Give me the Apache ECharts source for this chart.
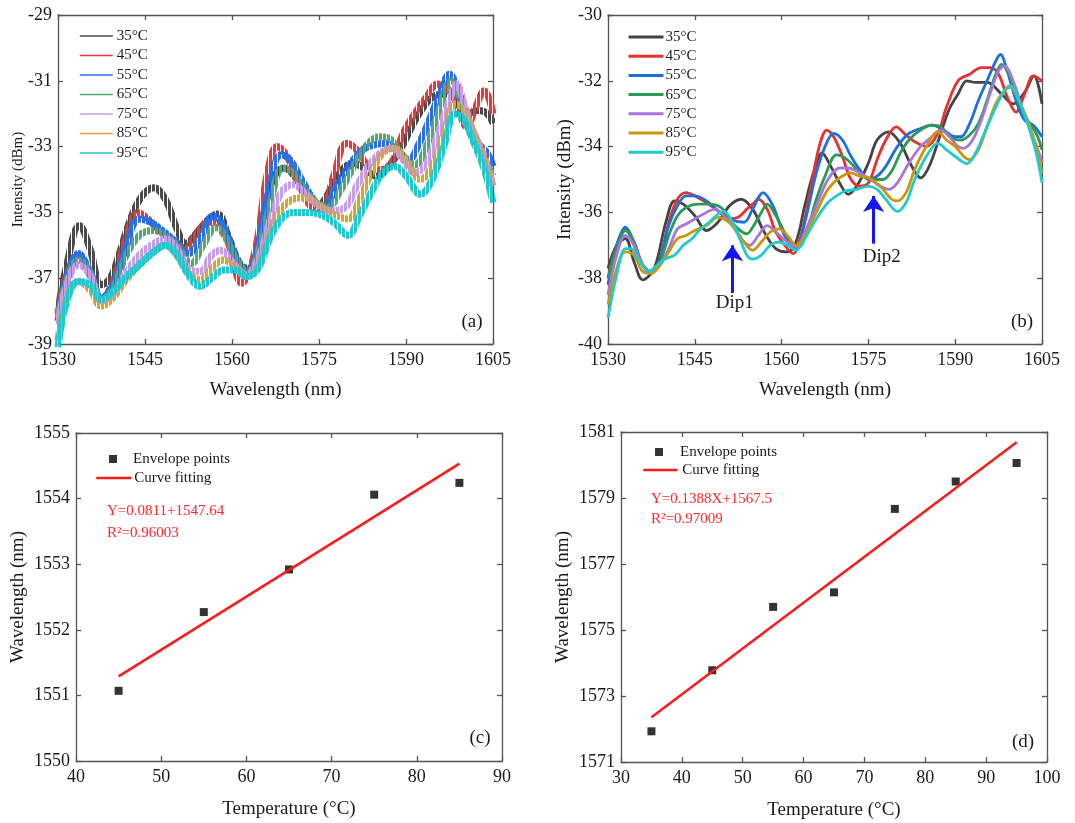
<!DOCTYPE html>
<html>
<head>
<meta charset="utf-8">
<script src="https://cdn.jsdelivr.net/npm/echarts@6/dist/echarts.min.js"></script>
<style>
html,body{margin:0;padding:0;background:#fff}
#chart{width:1075px;height:823px}
</style>
</head>
<body>
<div id="chart"></div>
<script>
// ---------- data ----------
const tempNames = ['35°C', '45°C', '55°C', '65°C', '75°C', '85°C', '95°C'];

// (a) fringe spectra, band centre [wavelength nm, intensity dBm]
const specA35 = [[1530,-38.0],[1531.5,-36.6],[1533.7,-35.4],[1535.5,-36.1],[1537.5,-37.2],[1539,-37.0],[1540.5,-36.3],[1542.5,-35.2],[1544.5,-34.5],[1546.5,-34.25],[1548.5,-34.6],[1550.5,-35.5],[1552,-35.95],[1554,-35.6],[1556,-35.2],[1557.5,-35.05],[1559.5,-35.8],[1561.5,-36.6],[1563,-36.7],[1564.5,-36.0],[1566,-34.6],[1567.5,-33.85],[1569,-33.65],[1571,-33.95],[1573,-34.4],[1575,-34.75],[1577,-34.3],[1579,-33.7],[1581,-33.5],[1583,-33.7],[1585,-33.9],[1587,-33.6],[1589,-33.1],[1591,-32.4],[1593,-31.8],[1595,-31.45],[1597,-31.4],[1598.5,-31.6],[1600.5,-32.0],[1602.5,-31.9],[1604,-32.0],[1605,-32.3]];
const specA45 = [[1530,-38.1],[1531.5,-36.9],[1533.5,-36.3],[1535.5,-36.9],[1537.5,-37.6],[1539.5,-37.1],[1541.5,-35.9],[1543.8,-35.0],[1545.5,-35.2],[1547.5,-35.55],[1550,-35.85],[1552,-36.1],[1554,-35.6],[1556,-35.3],[1557.5,-35.3],[1559.5,-36.0],[1561.7,-37.15],[1563,-36.8],[1564.5,-35.7],[1566,-33.9],[1567.8,-33.0],[1569.5,-33.3],[1571.5,-34.1],[1573.5,-34.8],[1575.5,-34.9],[1577.5,-33.9],[1579.8,-32.9],[1581.5,-33.1],[1583.5,-33.6],[1585.5,-33.7],[1587.5,-33.5],[1589.5,-32.6],[1591.5,-32.0],[1593.5,-31.5],[1595.5,-31.1],[1597,-31.2],[1598.5,-31.6],[1600.5,-32.4],[1602,-31.8],[1603.5,-31.3],[1605,-32.0]];
const specA55 = [[1530,-38.3],[1531.5,-37.0],[1533.5,-36.25],[1535.5,-36.8],[1537.5,-37.6],[1539.5,-37.2],[1541.5,-36.2],[1544,-35.2],[1546,-35.3],[1548,-35.55],[1550,-35.85],[1552.5,-36.25],[1554.5,-35.8],[1556.8,-35.1],[1558.5,-35.4],[1560.5,-36.3],[1562.3,-36.85],[1564,-36.4],[1566,-34.6],[1568.5,-33.25],[1570,-33.4],[1572,-34.0],[1574,-34.6],[1575.8,-34.85],[1578,-34.2],[1580.5,-33.5],[1582.5,-33.1],[1584.5,-32.95],[1586.5,-32.9],[1588.5,-33.1],[1590.5,-33.4],[1592,-33.0],[1594,-32.2],[1596,-31.3],[1597.5,-30.8],[1599,-31.3],[1600.5,-32.1],[1602.5,-32.9],[1604,-33.2],[1605,-33.6]];
const specA65 = [[1530,-38.2],[1531.5,-37.1],[1533.5,-36.45],[1535.5,-36.8],[1537.5,-37.65],[1539.5,-37.3],[1541.5,-36.4],[1544,-35.7],[1546.5,-35.55],[1548.5,-35.7],[1550.5,-36.0],[1553,-36.55],[1555,-36.0],[1557.3,-35.45],[1559,-35.8],[1561,-36.5],[1562.8,-36.8],[1564.5,-36.2],[1566.5,-34.8],[1568.8,-33.65],[1570.5,-33.8],[1572.5,-34.3],[1574.5,-34.7],[1576.5,-34.85],[1578.5,-34.4],[1581,-33.6],[1583,-33.0],[1585.5,-32.7],[1587.5,-32.8],[1589.5,-33.35],[1591.5,-33.55],[1593.5,-33.0],[1595.5,-32.0],[1597.8,-31.0],[1599.5,-31.6],[1601,-32.5],[1603,-33.2],[1605,-33.9]];
const specA75 = [[1530,-38.4],[1531.5,-37.2],[1533.5,-36.6],[1535.5,-36.9],[1537.5,-37.7],[1539.5,-37.5],[1541.5,-36.9],[1544,-36.3],[1546.5,-35.95],[1548.5,-35.8],[1550.5,-36.1],[1552.5,-36.7],[1554.5,-36.8],[1556.5,-36.3],[1558,-36.15],[1560,-36.5],[1562.5,-36.9],[1564.5,-36.4],[1566.5,-35.3],[1568.5,-34.4],[1570.5,-34.15],[1572.5,-34.4],[1574.5,-34.75],[1577,-34.95],[1579.5,-34.85],[1581.5,-34.2],[1583.5,-33.6],[1585.5,-33.2],[1587.5,-33.05],[1589.5,-33.4],[1591.5,-33.8],[1593.5,-33.5],[1595.5,-32.6],[1597.5,-31.6],[1598.7,-31.1],[1600,-31.7],[1601.5,-32.5],[1603.5,-33.3],[1605,-34.2]];
const specA85 = [[1530,-38.9],[1531.5,-37.6],[1533.5,-37.1],[1535.5,-37.35],[1537.5,-37.85],[1539.5,-37.6],[1541.5,-37.1],[1544,-36.6],[1546.5,-36.2],[1548.5,-36.0],[1550.5,-36.3],[1552.5,-36.85],[1554.5,-37.05],[1556.5,-36.7],[1558.5,-36.45],[1560.5,-36.65],[1562.5,-36.95],[1564.5,-36.6],[1566.5,-35.6],[1568.5,-34.9],[1570.5,-34.6],[1572.5,-34.55],[1574.5,-34.7],[1577,-35.0],[1580,-35.2],[1582,-34.6],[1584,-33.8],[1586,-33.2],[1588,-33.05],[1590,-33.4],[1592.5,-34.0],[1594.5,-33.6],[1596.5,-32.6],[1598.5,-31.7],[1600,-31.9],[1601.5,-32.5],[1603.5,-33.4],[1605,-34.2]];
const specA95 = [[1530,-39.1],[1531.5,-37.7],[1533.5,-37.1],[1535.5,-37.2],[1537.5,-37.65],[1539.5,-37.4],[1541.5,-37.0],[1544,-36.6],[1546.5,-36.2],[1548.5,-36.0],[1550.5,-36.3],[1552.5,-36.9],[1554.5,-37.25],[1556.5,-37.0],[1558.5,-36.75],[1560.5,-36.75],[1562.5,-36.95],[1564.5,-36.7],[1566.5,-35.8],[1568.5,-35.2],[1570.5,-35.0],[1572.5,-35.0],[1575,-35.05],[1577.5,-35.3],[1580,-35.7],[1582,-35.1],[1584,-34.4],[1586,-33.8],[1588,-33.6],[1590,-33.9],[1592.5,-34.45],[1594.5,-34.0],[1596.5,-33.0],[1598.5,-32.0],[1600,-32.2],[1601.5,-32.8],[1603.5,-33.7],[1605,-34.7]];

// (b) smoothed spectra [wavelength nm, intensity dBm]
const specB35 = [[1530,-37.7],[1531.5,-37.0],[1533,-36.8],[1534.5,-37.5],[1536,-38.05],[1538,-37.7],[1540,-36.3],[1541.5,-35.65],[1543,-35.75],[1545,-36.1],[1547,-36.55],[1549,-36.3],[1551,-35.8],[1553,-35.6],[1555,-35.9],[1557,-36.6],[1559,-37.1],[1561,-37.2],[1562.5,-36.9],[1564,-35.8],[1565.5,-34.8],[1567,-34.2],[1568.5,-34.6],[1570,-35.1],[1571.5,-35.45],[1573,-35.2],[1575,-34.5],[1576.5,-33.8],[1578.5,-33.55],[1580.5,-33.9],[1582.5,-34.6],[1584,-34.95],[1585.5,-34.6],[1587.5,-33.6],[1589,-32.85],[1590.5,-32.4],[1592,-32.0],[1593.5,-32.05],[1595.5,-32.05],[1598,-32.4],[1600,-32.7],[1602,-32.35],[1603.6,-31.85],[1605,-32.7]];
const specB45 = [[1530,-38.0],[1531.5,-37.0],[1533,-36.5],[1534.5,-37.0],[1536,-37.6],[1537.5,-37.85],[1539,-37.4],[1540.5,-36.3],[1542,-35.6],[1543.5,-35.4],[1545,-35.5],[1547,-35.7],[1549,-35.95],[1551,-36.2],[1552.5,-36.15],[1554,-35.9],[1555,-35.75],[1556,-35.6],[1557.5,-35.9],[1559,-36.6],[1561,-37.1],[1562,-37.25],[1563.5,-36.6],[1565,-35.3],[1566.5,-34.0],[1567.8,-33.5],[1569,-33.7],[1570.5,-34.3],[1572,-35.0],[1573.5,-35.2],[1575,-35.1],[1576.5,-34.4],[1578,-33.8],[1579.8,-33.4],[1581.5,-33.65],[1583,-33.85],[1585,-34.0],[1587,-33.6],[1588.5,-32.8],[1590.5,-32.0],[1592.5,-31.8],[1594.5,-31.6],[1596,-31.6],[1597.5,-31.8],[1599,-32.5],[1600.5,-32.95],[1602,-32.4],[1603.5,-31.85],[1605,-32.0]];
const specB55 = [[1530,-38.2],[1531.5,-37.0],[1533,-36.45],[1534.5,-36.9],[1536,-37.6],[1537.5,-37.8],[1539,-37.4],[1540.5,-36.4],[1542,-35.8],[1543.5,-35.5],[1545,-35.5],[1547,-35.65],[1549,-35.95],[1551,-36.2],[1553.5,-36.3],[1555,-35.9],[1556.8,-35.4],[1558.5,-35.8],[1560,-36.5],[1561.5,-37.0],[1562.5,-37.1],[1564,-36.3],[1566,-34.8],[1567.5,-34.0],[1569,-33.6],[1570.5,-33.8],[1572,-34.3],[1573.5,-34.7],[1575,-35.0],[1576.5,-34.9],[1578,-34.6],[1580,-34.0],[1582,-33.6],[1584,-33.45],[1586,-33.35],[1588,-33.5],[1590,-33.7],[1591,-33.7],[1592.5,-33.3],[1594,-32.6],[1595.5,-32.0],[1597,-31.4],[1597.8,-31.2],[1599,-31.7],[1600.5,-32.6],[1602,-33.2],[1603.5,-33.35],[1605,-33.7]];
const specB65 = [[1530,-38.0],[1531.5,-37.1],[1533,-36.55],[1534.5,-36.9],[1536,-37.6],[1537.5,-37.8],[1539,-37.5],[1540.5,-36.7],[1542,-36.1],[1543.5,-35.85],[1545.5,-35.75],[1547.5,-35.75],[1549.5,-35.85],[1551,-36.2],[1552.5,-36.5],[1554,-36.65],[1555,-36.45],[1556.5,-36.0],[1557.5,-35.75],[1559,-36.1],[1560.5,-36.6],[1562,-37.0],[1563,-37.05],[1564.5,-36.5],[1566,-35.6],[1567.5,-34.9],[1569.5,-34.25],[1571,-34.35],[1572.5,-34.6],[1574,-34.9],[1576,-35.0],[1577.5,-35.0],[1579,-34.75],[1580.5,-34.2],[1582,-33.8],[1584,-33.5],[1586,-33.35],[1587.5,-33.4],[1589.5,-33.75],[1591,-33.8],[1592.5,-33.65],[1594,-33.3],[1595.5,-32.6],[1597,-31.8],[1598,-31.5],[1599.5,-31.9],[1601,-32.7],[1602.5,-33.2],[1604,-33.6],[1605,-34.1]];
const specB75 = [[1530,-38.5],[1531.5,-37.3],[1533,-36.7],[1534.5,-37.0],[1536,-37.6],[1537.5,-37.8],[1539,-37.6],[1540.5,-37.1],[1542,-36.5],[1543.5,-36.35],[1545,-36.2],[1547,-36.0],[1548.5,-35.9],[1550,-36.1],[1551.5,-36.4],[1553,-36.8],[1554.5,-37.0],[1556,-36.7],[1557.5,-36.4],[1559,-36.6],[1561,-36.9],[1562.5,-37.05],[1564,-36.6],[1566,-35.8],[1568,-35.0],[1570,-34.65],[1571.5,-34.65],[1573,-34.75],[1575,-34.95],[1577,-35.2],[1578.5,-35.3],[1580,-35.1],[1582,-34.5],[1584,-34.0],[1586,-33.7],[1587.5,-33.5],[1589,-33.7],[1590.5,-34.0],[1591.5,-34.05],[1593,-33.8],[1594.5,-33.2],[1596,-32.4],[1597.5,-31.7],[1598.5,-31.55],[1600,-32.0],[1601.5,-32.8],[1603,-33.5],[1604.5,-34.2],[1605,-34.5]];
const specB85 = [[1530,-38.8],[1531.5,-37.7],[1533,-37.2],[1534.5,-37.3],[1536,-37.8],[1537.5,-37.85],[1539,-37.6],[1540.5,-37.2],[1542,-36.8],[1543.5,-36.7],[1545,-36.55],[1547,-36.4],[1549,-36.15],[1550.5,-36.25],[1552,-36.5],[1553.5,-36.9],[1555,-37.15],[1556.5,-36.9],[1558,-36.6],[1559.5,-36.5],[1561,-36.7],[1562.5,-37.0],[1564,-36.7],[1566,-36.0],[1568,-35.3],[1570,-34.95],[1572,-34.8],[1573.5,-34.9],[1575,-34.95],[1577,-35.2],[1579,-35.6],[1580,-35.65],[1581.5,-35.4],[1583,-34.7],[1585,-34.0],[1587,-33.55],[1588.5,-33.8],[1590,-34.0],[1591.5,-34.3],[1592.5,-34.4],[1594,-34.1],[1595.5,-33.4],[1597,-32.7],[1598.5,-32.3],[1599.5,-32.2],[1601,-32.6],[1602.5,-33.2],[1604,-34.0],[1605,-34.8]];
const specB95 = [[1530,-39.2],[1531.5,-37.9],[1533,-37.1],[1534,-37.1],[1535.5,-37.5],[1537,-37.8],[1538.5,-37.6],[1540,-37.4],[1541.5,-37.3],[1543,-37.0],[1544.5,-36.8],[1546,-36.5],[1547.5,-36.3],[1549,-36.05],[1550,-35.97],[1551.5,-36.3],[1553,-36.9],[1554,-37.3],[1555,-37.42],[1556.5,-37.3],[1558,-37.0],[1559.5,-36.9],[1561,-37.0],[1562.5,-37.15],[1564,-36.8],[1566,-36.2],[1568,-35.7],[1569.5,-35.5],[1571,-35.35],[1573,-35.3],[1575,-35.2],[1576.5,-35.3],[1578,-35.6],[1580,-35.97],[1581.5,-35.7],[1583,-35.0],[1585,-34.3],[1587,-33.9],[1588.5,-34.1],[1590,-34.3],[1592,-34.52],[1593.5,-34.2],[1595,-33.6],[1597,-32.8],[1598.5,-32.3],[1599.5,-32.15],[1601,-32.6],[1602.5,-33.3],[1604,-34.2],[1605,-35.1]];

// dip markers in (b): arrow from tail to tip at a wavelength, label below
const dip1 = {name: 'Dip1', wl: 1551.5, tail: -38.45, tip: -37.0, labelWl: 1551.9, labelY: -38.75};
const dip2 = {name: 'Dip2', wl: 1575.9, tail: -36.95, tip: -35.5, labelWl: 1577.3, labelY: -37.35};

// (c) Dip1 envelope points and linear fit
const tempC = [45, 55, 65, 75, 85];
const wlC = [1551.07, 1552.27, 1552.92, 1554.06, 1554.24];
const fitC = {slope: 0.0811, intercept: 1547.64, r2: '0.96003', text: 'Y=0.0811+1547.64'};

// (d) Dip2 envelope points and linear fit
const tempD = [35, 45, 55, 65, 75, 85, 95];
const wlD = [1571.93, 1573.78, 1575.70, 1576.14, 1578.67, 1579.50, 1580.06];
const fitD = {slope: 0.1388, intercept: 1567.5, r2: '0.97009', text: 'Y=0.1388X+1567.5'};

// ---------- styling ----------
const FONT = "'Liberation Serif', 'Times New Roman', serif";
const INK = '#1a1a1a';
const FRAME = '#555555';
const colorsA = ['#4a4a4a', '#ee3636', '#2a6fdc', '#4faa72', '#c69ee6', '#d6a532', '#22c6cc'];
const colorsB = ['#444444', '#e8302e', '#1e6ee0', '#2a9a55', '#a875dc', '#c9960f', '#1fcccc'];

// vertical stripes that imitate the dense interference fringes
function fringe(color, phase) {
  const c = document.createElement('canvas');
  c.width = 4; c.height = 4;
  const g = c.getContext('2d');
  g.fillStyle = color;
  for (let k = 0; k < 3; k++) g.fillRect((phase + k) % 4, 0, 1, 4);
  return {image: c, repeat: 'repeat'};
}

const grids = [
  {left: 58, top: 15, width: 435, height: 329},
  {left: 608, top: 15, width: 434, height: 329},
  {left: 76, top: 433, width: 426, height: 328},
  {left: 621, top: 432, width: 426, height: 330}
];

const lineSt = {color: FRAME, width: 1.3};
const plain = v => String(v);
const xAxes = [], yAxes = [];
function addAxes(gi, xr, yr, xname, yname, xgap, ygap, yNameSize) {
  xAxes.push({
    type: 'value', gridIndex: gi, min: xr[0], max: xr[1], interval: xr[2], position: 'bottom',
    axisLine: {show: true, onZero: false, lineStyle: lineSt},
    axisTick: {show: true, inside: true, length: 5, lineStyle: lineSt},
    axisLabel: {show: true, fontSize: 18, fontFamily: FONT, color: INK, margin: 7,
                showMinLabel: true, showMaxLabel: true, formatter: plain},
    splitLine: {show: false},
    name: xname, nameLocation: 'middle', nameGap: xgap, nameMoveOverlap: false,
    nameTextStyle: {fontSize: 19, fontFamily: FONT, color: INK}
  });
  xAxes.push({
    type: 'value', gridIndex: gi, min: xr[0], max: xr[1], interval: xr[2], position: 'top',
    axisLine: {show: true, onZero: false, lineStyle: lineSt},
    axisTick: {show: true, inside: true, length: 5, lineStyle: lineSt},
    axisLabel: {show: false}, splitLine: {show: false}
  });
  yAxes.push({
    type: 'value', gridIndex: gi, min: yr[0], max: yr[1], interval: yr[2], position: 'left',
    axisLine: {show: true, onZero: false, lineStyle: lineSt},
    axisTick: {show: true, inside: true, length: 5, lineStyle: lineSt},
    axisLabel: {show: true, fontSize: 18, fontFamily: FONT, color: INK, margin: 6,
                showMinLabel: true, showMaxLabel: true, formatter: plain},
    splitLine: {show: false},
    name: yname, nameLocation: 'middle', nameGap: ygap, nameMoveOverlap: false,
    nameTextStyle: {fontSize: yNameSize, fontFamily: FONT, color: INK}
  });
  yAxes.push({
    type: 'value', gridIndex: gi, min: yr[0], max: yr[1], interval: yr[2], position: 'right',
    axisLine: {show: true, onZero: false, lineStyle: lineSt},
    axisTick: {show: true, inside: true, length: 5, lineStyle: lineSt},
    axisLabel: {show: false}, splitLine: {show: false}
  });
}
addAxes(0, [1530, 1605, 15], [-39, -29, 2], 'Wavelength (nm)', 'Intensity (dBm)', 37, 32, 15);
addAxes(1, [1530, 1605, 15], [-40, -30, 2], 'Wavelength (nm)', 'Intensity (dBm)', 37, 33, 19);
addAxes(2, [40, 90, 10], [1550, 1555, 1], 'Temperature (°C)', 'Wavelength (nm)', 39, 48, 19);
addAxes(3, [30, 100, 10], [1571, 1581, 2], 'Temperature (°C)', 'Wavelength (nm)', 39, 48, 19);

const specA = [specA35, specA45, specA55, specA65, specA75, specA85, specA95];
const specB = [specB35, specB45, specB55, specB65, specB75, specB85, specB95];

const series = [];
specA.forEach((d, i) => {
  series.push({
    type: 'line', name: tempNames[i], xAxisIndex: 0, yAxisIndex: 0, data: d,
    smooth: 0.4, symbol: 'none', showSymbol: false, color: colorsA[i],
    lineStyle: {width: 7, color: fringe(colorsA[i], i)},
    animation: false, silent: true
  });
});
specB.forEach((d, i) => {
  const s = {
    type: 'line', name: tempNames[i] + ' ', xAxisIndex: 2, yAxisIndex: 2, data: d,
    smooth: 0.35, symbol: 'none', showSymbol: false, color: colorsB[i],
    lineStyle: {width: 2.8, color: colorsB[i]},
    animation: false, silent: true
  };
  if (i === 0) {
    s.markLine = {
      silent: true, animation: false, symbol: ['none', 'arrow'], symbolSize: 16,
      lineStyle: {color: '#1414ff', width: 3, type: 'solid'},
      label: {show: false},
      data: [dip1, dip2].map(p => [{coord: [p.wl, p.tail]}, {coord: [p.wl, p.tip]}])
    };
  }
  series.push(s);
});
series.push({
  type: 'scatter', name: 'Envelope points', xAxisIndex: 4, yAxisIndex: 4,
  data: tempC.map((t, i) => [t, wlC[i]]), symbol: 'rect', symbolSize: 8,
  itemStyle: {color: '#000'}, animation: false, silent: true
});
series.push({
  type: 'line', name: 'Curve fitting', xAxisIndex: 4, yAxisIndex: 4,
  data: [tempC[0], tempC[tempC.length - 1]].map(t => [t, fitC.intercept + fitC.slope * t]),
  symbol: 'none', showSymbol: false, lineStyle: {color: '#ff1a1a', width: 2.5}, color: '#ff1a1a',
  animation: false, silent: true
});
series.push({
  type: 'scatter', name: 'Envelope points ', xAxisIndex: 6, yAxisIndex: 6,
  data: tempD.map((t, i) => [t, wlD[i]]), symbol: 'rect', symbolSize: 8,
  itemStyle: {color: '#000'}, animation: false, silent: true
});
series.push({
  type: 'line', name: 'Curve fitting ', xAxisIndex: 6, yAxisIndex: 6,
  data: [tempD[0], tempD[tempD.length - 1]].map(t => [t, fitD.intercept + fitD.slope * t]),
  symbol: 'none', showSymbol: false, lineStyle: {color: '#ff1a1a', width: 2.5}, color: '#ff1a1a',
  animation: false, silent: true
});

function legendTxt(padLeft) {
  return {fontSize: 15, fontFamily: FONT, color: INK, lineHeight: 16, padding: [0, 0, 0, padLeft]};
}
const hiddenDot = {opacity: 0, borderWidth: 0};
const legends = [
  {
    left: 79, top: 28, padding: 0, orient: 'vertical', itemWidth: 33, itemHeight: 2, itemGap: 3.5,
    selectedMode: false, textStyle: legendTxt(-1),
    data: tempNames.map((n, i) => ({name: n, itemStyle: hiddenDot, lineStyle: {color: colorsA[i], width: 1.6}}))
  },
  {
    left: 627, top: 29, padding: 0, orient: 'vertical', itemWidth: 35, itemHeight: 2, itemGap: 3.2,
    selectedMode: false, textStyle: legendTxt(-3),
    data: tempNames.map((n, i) => ({name: n + ' ', itemStyle: hiddenDot, lineStyle: {color: colorsB[i], width: 3}}))
  },
  {
    left: 109, top: 451, padding: 0, itemWidth: 8, itemHeight: 8,
    selectedMode: false, textStyle: legendTxt(11),
    data: [{name: 'Envelope points', icon: 'rect'}]
  },
  {
    left: 95, top: 470, padding: 0, itemWidth: 35, itemHeight: 2,
    selectedMode: false, textStyle: legendTxt(-2),
    data: [{name: 'Curve fitting', itemStyle: hiddenDot, lineStyle: {color: '#ff1a1a', width: 2.5}}]
  },
  {
    left: 655, top: 444, padding: 0, itemWidth: 8, itemHeight: 8,
    selectedMode: false, textStyle: legendTxt(12),
    data: [{name: 'Envelope points ', icon: 'rect'}]
  },
  {
    left: 642, top: 462, padding: 0, itemWidth: 34, itemHeight: 2,
    selectedMode: false, textStyle: legendTxt(0),
    data: [{name: 'Curve fitting ', itemStyle: hiddenDot, lineStyle: {color: '#ff1a1a', width: 2.5}}]
  }
];

function txt(x, y, text, size, color, align) {
  return {
    type: 'text', x: x, y: y, silent: true, z: 10,
    style: {text: text, fontSize: size, fontFamily: FONT, fill: color,
            textAlign: align || 'left', textVerticalAlign: 'middle'}
  };
}
const graphics = [
  txt(472, 322, '(a)', 19, INK, 'center'),
  txt(1022, 322, '(b)', 19, INK, 'center'),
  txt(480, 738, '(c)', 19, INK, 'center'),
  txt(1023, 742, '(d)', 19, INK, 'center'),
  txt(107, 511, fitC.text, 15, '#ff2a2a'),
  txt(107, 533, 'R²=' + fitC.r2, 15, '#ff2a2a'),
  txt(651, 499, fitD.text, 15, '#ff2a2a'),
  txt(651, 519, 'R²=' + fitD.r2, 15, '#ff2a2a')
];

const chart = echarts.init(document.getElementById('chart'), null, {renderer: 'canvas'});
chart.setOption({
  backgroundColor: '#ffffff',
  animation: false,
  grid: grids,
  xAxis: xAxes,
  yAxis: yAxes,
  legend: legends,
  series: series,
  graphic: graphics
});

// Dip labels placed at their data positions in panel (b)
const dipLabels = [dip1, dip2].map(p => {
  const pt = chart.convertToPixel({xAxisIndex: 2, yAxisIndex: 2}, [p.labelWl, p.labelY]);
  return txt(pt[0], pt[1], p.name, 19, INK, 'center');
});
chart.setOption({graphic: graphics.concat(dipLabels)});
</script>
</body>
</html>
